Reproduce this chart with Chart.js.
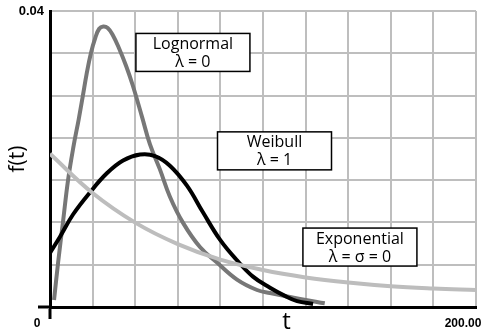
<!DOCTYPE html>
<html>
<head>
<meta charset="utf-8">
<script src="https://cdn.jsdelivr.net/npm/chart.js@4.4.1/dist/chart.umd.min.js"></script>
<style>
  html, body { margin: 0; padding: 0; background: #fff; }
  #wrap { width: 482px; height: 335px; position: relative; }
</style>
</head>
<body>
<div id="wrap"><canvas id="pdfChart"></canvas></div>
<script>
// Lognormal (lambda = 0)
const lognormalT = [1.9, 3.8, 6.1, 8.5, 11.1, 13.5, 15.4, 17.2, 19.2, 21.3, 23.1, 25.0, 27.1, 29.4, 32.5, 35.7, 38.8, 43.2, 46.9, 51.6, 56.3, 62.4, 70.4, 78.4, 87.8, 97.2, 103.3, 117.4, 129];
const lognormalF = [0.00095, 0.006, 0.0115, 0.0172, 0.0218, 0.0254, 0.0285, 0.0315, 0.0343, 0.0364, 0.0376, 0.0379, 0.0377, 0.0368, 0.0349, 0.0326, 0.03, 0.0257, 0.022, 0.0186, 0.0149, 0.0114, 0.0081, 0.006, 0.0037, 0.0023, 0.0019, 0.0011, 0.0005];

// Weibull (lambda = 1)
const weibullT = [0, 4.7, 10.8, 18.8, 26.8, 34.3, 42.3, 49.3, 56.3, 64.3, 71.8, 79.8, 87.8, 95.3, 103.3, 110.3, 116, 123.5];
const weibullF = [0.0073, 0.0095, 0.0125, 0.0155, 0.0181, 0.0198, 0.0206, 0.0204, 0.0191, 0.0164, 0.0128, 0.0091, 0.0063, 0.0041, 0.0026, 0.0015, 0.0008, 0.0004];

// Exponential (lambda = sigma = 0)
const exponentialT = [0, 20, 40, 60, 80, 100, 120, 140, 160, 180, 200];
const exponentialF = [0.0207, 0.0154, 0.0114, 0.0085, 0.0064, 0.005, 0.004, 0.0033, 0.0028, 0.0025, 0.0023];

// axis ticks
const xTickLabels = { 0: '0', 200: '200.00' };
const yGridValues = [0, 0.005714, 0.011429, 0.017143, 0.022857, 0.028571, 0.034286, 0.04];
const yTickLabels = { 0.04: '0.04' };

// text boxes: [line1, line2, t, f]
const boxLabels = [
  ['Lognormal', '\u03bb = 0', 67.1, 0.0344],
  ['Weibull', '\u03bb = 1', 105.4, 0.0211],
  ['Exponential', '\u03bb = \u03c3 = 0', 145.5, 0.0081]
];

const toPoints = (ts, fs) => ts.map((t, i) => ({ x: t, y: fs[i] }));

const labelPlugin = {
  id: 'labelPlugin',
  afterDatasetsDraw(chart) {
    const ctx = chart.ctx;
    const xs = chart.scales.x;
    const ys = chart.scales.y;
    ctx.save();
    boxLabels.forEach(b => {
      const cx = xs.getPixelForValue(b[2]);
      const cy = ys.getPixelForValue(b[3]);
      const w = 114, h = 38;
      ctx.fillStyle = '#fff';
      ctx.fillRect(cx - w / 2, cy - h / 2, w, h);
      ctx.strokeStyle = '#000';
      ctx.lineWidth = 1.5;
      ctx.strokeRect(cx - w / 2, cy - h / 2, w, h);
      ctx.fillStyle = '#000';
      ctx.font = '16px "Open Sans"';
      ctx.textAlign = 'center';
      ctx.textBaseline = 'middle';
      ctx.fillText(b[0], cx, cy - 8);
      ctx.fillText(b[1], cx, cy + 10);
    });
    // x axis title
    ctx.font = '24px "Open Sans"';
    ctx.fillStyle = '#000';
    ctx.textAlign = 'center';
    ctx.textBaseline = 'middle';
    ctx.fillText('t', xs.getPixelForValue(111), 322);
    ctx.restore();
  }
};

const ctx = document.getElementById('pdfChart').getContext('2d');
new Chart(ctx, {
  type: 'line',
  data: {
    datasets: [
      {
        label: 'Exponential',
        data: toPoints(exponentialT, exponentialF),
        borderColor: '#bdbdbd',
        borderWidth: 4,
        pointRadius: 0,
        tension: 0.4
      },
      {
        label: 'Weibull',
        data: toPoints(weibullT, weibullF),
        borderColor: '#000',
        borderWidth: 4,
        pointRadius: 0,
        tension: 0.4
      },
      {
        label: 'Lognormal',
        data: toPoints(lognormalT, lognormalF),
        borderColor: '#777',
        borderWidth: 4,
        pointRadius: 0,
        tension: 0.4
      }
    ]
  },
  options: {
    responsive: true,
    maintainAspectRatio: false,
    animation: false,
    layout: { padding: { top: 11, right: 6, left: 0, bottom: 0 } },
    plugins: {
      legend: { display: false },
      tooltip: { enabled: false }
    },
    scales: {
      x: {
        type: 'linear',
        min: 0,
        max: 200,
        afterFit: axis => {
          axis.height = 28;
          axis.paddingLeft = 0;
          axis.paddingRight = 0;
        },
        grid: {
          color: '#bebebe',
          lineWidth: 2,
          tickLength: 12,
          tickColor: c => (c.tick && c.tick.value === 0 ? '#000' : 'rgba(0,0,0,0)'),
          tickWidth: 3
        },
        border: { color: '#000', width: 3 },
        ticks: {
          stepSize: 20,
          maxRotation: 0,
          autoSkip: false,
          labelOffset: -13,
          padding: -3,
          color: '#000',
          font: { family: '"Liberation Sans", Arial', size: 12, weight: 'bold' },
          callback: v => xTickLabels[v] || ''
        }
      },
      y: {
        min: 0,
        max: 0.04,
        afterFit: axis => { axis.width = 50; },
        afterBuildTicks: axis => { axis.ticks = yGridValues.map(v => ({ value: v })); },
        grid: {
          color: '#bebebe',
          lineWidth: 2,
          tickLength: 12,
          tickColor: c => (c.tick && c.tick.value === 0 ? '#000' : 'rgba(0,0,0,0)'),
          tickWidth: 3
        },
        border: { color: '#000', width: 3 },
        ticks: {
          autoSkip: false,
          padding: -6,
          color: '#000',
          font: { family: '"Liberation Sans", Arial', size: 13, weight: 'bold' },
          callback: v => yTickLabels[v] || ''
        },
        title: {
          display: true,
          text: 'f(t)',
          color: '#000',
          font: { family: '"Open Sans"', size: 21 },
          padding: { top: 5, bottom: 0 }
        }
      }
    }
  },
  plugins: [labelPlugin]
});
</script>
</body>
</html>
